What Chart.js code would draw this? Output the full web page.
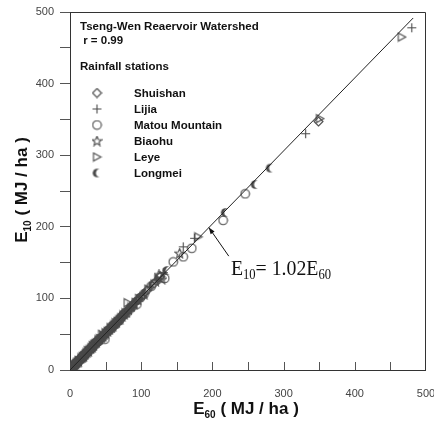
<!DOCTYPE html>
<html>
<head>
<meta charset="utf-8">
<script src="https://cdn.jsdelivr.net/npm/chart.js@4.4.0/dist/chart.umd.min.js"></script>
<style>
  html, body { margin: 0; padding: 0; background: #fff; overflow: hidden; }
  #wrap { width: 434px; height: 421px; position: relative; }
</style>
</head>
<body>
<div id="wrap"><canvas id="chart"></canvas></div>
<script>
// E60 vs E10 (MJ/ha) by rainfall station, [E60, E10]
const shuishan = [[2,3],[3,5],[4,4],[6,7],[7,6],[9,9],[10,12],[12,13],[14,13],[15,15],[17,17],[18,19],[21,22],[23,24],[25,25],[28,29],[30,31],[32,33],[34,36],[36,36],[38,38],[40,41],[44,46],[47,47],[49,50],[53,54],[56,58],[58,59],[63,64],[66,66],[68,70],[71,73],[74,75],[77,80],[80,82],[84,85],[87,88],[91,94],[96,99],[101,103],[108,111],[118,121],[127,131],[349,347]];
const lijia = [[1,2],[2,2],[3,4],[5,6],[6,8],[8,9],[9,10],[11,11],[13,13],[14,15],[16,16],[17,18],[20,21],[22,24],[24,25],[27,28],[29,31],[31,32],[33,33],[35,37],[39,40],[41,43],[43,44],[45,46],[47,49],[50,51],[52,54],[55,57],[57,58],[60,61],[62,64],[65,66],[67,69],[70,72],[72,74],[75,77],[78,80],[82,84],[85,87],[88,91],[92,95],[97,99],[101,104],[112,116],[122,126],[131,136],[159,172],[175,184],[331,330],[480,478]];
const matou = [[2,1],[4,3],[5,5],[7,7],[8,9],[10,10],[12,12],[13,14],[16,16],[18,17],[19,20],[21,22],[23,23],[26,27],[28,28],[30,30],[32,32],[34,35],[36,38],[38,39],[40,40],[42,43],[46,46],[49,43],[51,52],[54,55],[56,56],[59,59],[61,62],[64,64],[66,67],[69,69],[71,72],[74,76],[77,78],[80,80],[84,85],[88,89],[94,92],[99,101],[104,106],[114,117],[126,129],[133,128],[145,151],[159,158],[171,170],[215,209],[246,246]];
const biaohu = [[1,2],[3,3],[4,5],[6,6],[8,8],[9,10],[11,11],[12,12],[15,16],[17,18],[19,19],[21,21],[22,23],[24,25],[26,26],[29,30],[31,32],[33,34],[35,37],[37,38],[41,43],[44,45],[46,47],[48,50],[50,51],[53,54],[55,57],[58,59],[60,61],[63,65],[65,66],[68,70],[70,71],[73,75],[76,78],[79,81],[82,84],[86,88],[90,92],[95,98],[104,106],[120,124],[125,133],[129,127],[154,163]];
const leye = [[1,1],[3,3],[4,5],[6,6],[7,8],[9,9],[10,11],[12,13],[13,13],[16,17],[18,19],[20,20],[22,22],[23,24],[25,27],[27,28],[29,29],[30,31],[32,34],[34,36],[36,37],[38,38],[40,42],[42,44],[45,50],[47,48],[50,52],[53,54],[55,55],[57,59],[59,60],[62,63],[64,66],[67,68],[69,70],[72,73],[75,77],[78,80],[81,94],[86,88],[92,94],[97,100],[110,113],[124,127],[180,186],[351,351],[466,465]];
const longmei = [[1,1],[2,2],[4,4],[5,6],[7,7],[8,8],[10,10],[11,12],[13,13],[14,14],[16,17],[18,18],[20,20],[21,21],[23,23],[24,25],[26,27],[28,28],[30,30],[31,33],[33,34],[35,35],[37,38],[39,40],[41,42],[43,45],[46,47],[48,48],[50,51],[52,53],[55,56],[57,58],[60,61],[62,63],[65,66],[67,68],[70,71],[73,74],[76,78],[79,80],[83,85],[88,90],[91,93],[95,97],[100,102],[106,108],[116,119],[136,139],[218,220],[260,259],[281,282]];

const stationNames = ['Shuishan', 'Lijia', 'Matou Mountain', 'Biaohu', 'Leye', 'Longmei'];

// regression E10 = 1.02 E60
const fitSlope = 1.02;
const fitRange = [0, 482];

// annotation arrow (data units)
const arrowTip = [195, 199];
const arrowTail = [223, 159];
const eqAnchor = [226, 133];

const markColor = '#4a4a4a';

const makeMarker = (draw) => {
    const c = document.createElement('canvas');
    c.width = 11; c.height = 11;
    const g = c.getContext('2d');
    g.strokeStyle = markColor;
    g.fillStyle = markColor;
    g.lineWidth = 1.1;
    draw(g);
    return c;
};

const diamondMark = makeMarker(g => {
    g.beginPath();
    g.moveTo(5.5, 1); g.lineTo(10, 5.5); g.lineTo(5.5, 10); g.lineTo(1, 5.5);
    g.closePath(); g.stroke();
});
const crossMark = makeMarker(g => {
    g.beginPath();
    g.moveTo(1, 5.5); g.lineTo(10, 5.5);
    g.moveTo(5.5, 1); g.lineTo(5.5, 10);
    g.stroke();
});
const circleMark = makeMarker(g => {
    g.beginPath();
    g.arc(5.5, 5.5, 4.3, 0, Math.PI * 2);
    g.stroke();
});
const starMark = makeMarker(g => {
    g.beginPath();
    for (let i = 0; i < 10; i++) {
        const r = i % 2 === 0 ? 5 : 2.2;
        const a = -Math.PI / 2 + i * Math.PI / 5;
        const px = 5.5 + r * Math.cos(a), py = 5.8 + r * Math.sin(a);
        if (i === 0) g.moveTo(px, py); else g.lineTo(px, py);
    }
    g.closePath(); g.stroke();
});
const triMark = makeMarker(g => {
    g.beginPath();
    g.moveTo(2, 1.5); g.lineTo(9.5, 5.5); g.lineTo(2, 9.5);
    g.closePath(); g.stroke();
});
const moonMark = makeMarker(g => {
    g.beginPath();
    g.arc(5.5, 5.5, 4.3, 0, Math.PI * 2);
    g.fill();
    g.globalCompositeOperation = 'destination-out';
    g.beginPath();
    g.arc(8.3, 5.5, 3.8, 0, Math.PI * 2);
    g.fill();
});

const stationData = [shuishan, lijia, matou, biaohu, leye, longmei];
const stationMarks = [diamondMark, crossMark, circleMark, starMark, triMark, moonMark];

const toXY = (list) => list.map(p => ({x: p[0], y: p[1]}));

const datasets = [{
    type: 'line',
    label: 'fit',
    data: fitRange.map(x => ({x: x, y: fitSlope * x})),
    borderColor: '#222',
    borderWidth: 1,
    pointRadius: 0,
    fill: false
}];
stationData.forEach((d, i) => {
    datasets.push({
        label: stationNames[i],
        data: toXY(d),
        pointStyle: stationMarks[i],
        pointRadius: 5,
        showLine: false
    });
});

const serif = "'Times New Roman', 'Liberation Serif', serif";
const sans = "Arial, 'Liberation Sans', sans-serif";

// frame, inward x ticks, axis titles, legend box and equation
const decorPlugin = {
    id: 'decor',
    afterDraw(chart) {
        const ctx = chart.ctx;
        const {left, right, top, bottom} = chart.chartArea;
        const xs = chart.scales.x, ys = chart.scales.y;
        ctx.save();

        // bottom axis, top and right frame
        ctx.strokeStyle = '#333';
        ctx.lineWidth = 1;
        ctx.beginPath();
        ctx.moveTo(left, bottom + 0.5); ctx.lineTo(right - 0.5, bottom + 0.5);
        ctx.moveTo(left, top + 0.5); ctx.lineTo(right - 0.5, top + 0.5); ctx.lineTo(right - 0.5, bottom + 1);
        ctx.stroke();

        // x ticks pointing up
        ctx.strokeStyle = '#555';
        ctx.beginPath();
        for (let v = 50; v < 500; v += 50) {
            const px = Math.round(xs.getPixelForValue(v)) + 0.5;
            ctx.moveTo(px, bottom); ctx.lineTo(px, bottom - 8);
        }
        ctx.stroke();

        // axis titles with subscripts
        const big = 'bold 17px ' + sans, small = 'bold 10px ' + sans;
        const rest = ' ( MJ / ha )';
        ctx.fillStyle = '#111';
        ctx.textBaseline = 'alphabetic';
        ctx.textAlign = 'left';
        const drawTitle = (sub, cx, base) => {
            ctx.font = big;
            const wE = ctx.measureText('E').width, wR = ctx.measureText(rest).width;
            ctx.font = small;
            const wS = ctx.measureText(sub).width;
            const sx = cx - (wE + wS + wR) / 2;
            ctx.font = big; ctx.fillText('E', sx, base);
            ctx.font = small; ctx.fillText(sub, sx + wE, base + 4);
            ctx.font = big; ctx.fillText(rest, sx + wE + wS, base);
        };
        drawTitle('60', 246, 414);
        ctx.save();
        ctx.translate(27, 190);
        ctx.rotate(-Math.PI / 2);
        drawTitle('10', 0, 0);
        ctx.restore();

        // legend block
        ctx.font = 'bold 11.5px ' + sans;
        ctx.fillStyle = '#111';
        ctx.fillText('Tseng-Wen Reaervoir Watershed', 80, 30);
        ctx.fillText(' r = 0.99', 80, 44);
        ctx.fillText('Rainfall stations', 80, 70);
        stationNames.forEach((name, i) => {
            const cy = 93 + i * 16;
            ctx.drawImage(stationMarks[i], 97 - 5.5, cy - 5.5);
            ctx.fillText(name, 134, cy + 4);
        });

        // equation and arrow
        const tipX = xs.getPixelForValue(arrowTip[0]), tipY = ys.getPixelForValue(arrowTip[1]);
        const tailX = xs.getPixelForValue(arrowTail[0]), tailY = ys.getPixelForValue(arrowTail[1]);
        ctx.strokeStyle = '#111';
        ctx.fillStyle = '#111';
        ctx.beginPath();
        ctx.moveTo(tailX, tailY); ctx.lineTo(tipX, tipY);
        ctx.stroke();
        const ang = Math.atan2(tipY - tailY, tipX - tailX);
        ctx.beginPath();
        ctx.moveTo(tipX, tipY);
        ctx.lineTo(tipX - 7 * Math.cos(ang - 0.35), tipY - 7 * Math.sin(ang - 0.35));
        ctx.lineTo(tipX - 7 * Math.cos(ang + 0.35), tipY - 7 * Math.sin(ang + 0.35));
        ctx.closePath(); ctx.fill();

        const ex = xs.getPixelForValue(eqAnchor[0]), ey = ys.getPixelForValue(eqAnchor[1]);
        ctx.save();
        ctx.translate(ex, ey);
        ctx.scale(0.9, 1);
        let off = 0;
        const parts = [['E', 22, 0], ['10', 14, 4], ['= 1.02E', 22, 0], ['60', 14, 4]];
        parts.forEach(p => {
            ctx.font = p[1] + 'px ' + serif;
            ctx.fillText(p[0], off, p[2]);
            off += ctx.measureText(p[0]).width;
        });
        ctx.restore();

        ctx.restore();
    }
};

const tickLabel = (v) => (v % 100 === 0 ? v : '');

new Chart(document.getElementById('chart'), {
    type: 'scatter',
    data: { datasets: datasets },
    options: {
        responsive: true,
        maintainAspectRatio: false,
        animation: false,
        layout: { padding: { top: 12, right: 8, left: 0, bottom: 0 } },
        plugins: {
            legend: { display: false },
            tooltip: { enabled: false }
        },
        scales: {
            x: {
                type: 'linear',
                min: 0, max: 500,
                afterFit: (scale) => { scale.height = 51; scale.paddingLeft = 0; scale.paddingRight = 0; },
                grid: { display: false, drawTicks: false },
                border: { display: false },
                ticks: {
                    stepSize: 50,
                    autoSkip: false,
                    maxRotation: 0,
                    padding: 17,
                    color: '#444',
                    font: { size: 11, family: sans },
                    callback: tickLabel
                }
            },
            y: {
                type: 'linear',
                min: 0, max: 500,
                afterFit: (scale) => { scale.width = 70; scale.paddingTop = 0; scale.paddingBottom = 0; },
                grid: { drawOnChartArea: false, tickLength: 10, color: '#555' },
                border: { display: true, color: '#333' },
                ticks: {
                    stepSize: 50,
                    autoSkip: false,
                    padding: 6,
                    color: '#444',
                    font: { size: 11, family: sans },
                    callback: tickLabel
                }
            }
        }
    },
    plugins: [decorPlugin]
});
</script>
</body>
</html>
